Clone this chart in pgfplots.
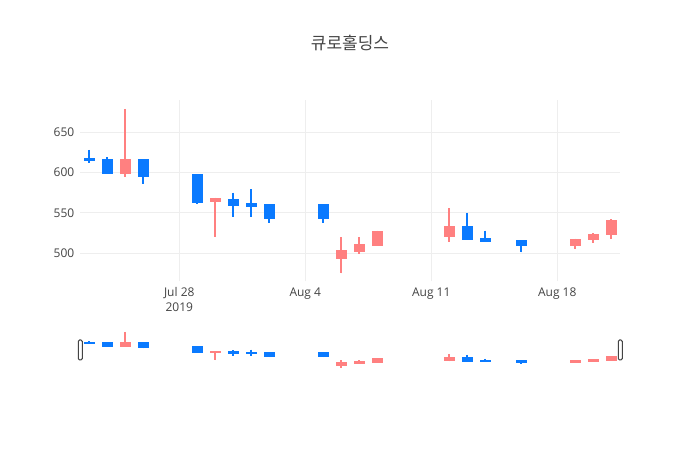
\documentclass[border=0pt]{standalone}
\usepackage{pgfplots}
\pgfplotsset{compat=1.18}
\usepgfplotslibrary{statistics}
\usepackage{fontspec}
\setmainfont{Open Sans}
\newfontfamily\krfont{Noto Sans CJK KR}
\definecolor{upred}{HTML}{FF8080}
\definecolor{downblue}{HTML}{0A7AFF}
\definecolor{txt}{HTML}{444444}
\definecolor{gridc}{HTML}{EEEEEE}

% candle: day, open, high, low, close
\newcommand{\up}[5]{\addplot[upred, fill=upred, line width=1.5pt,
  boxplot prepared={draw direction=y, draw position=#1, lower whisker=#4, lower quartile=#2,
  median=#2, upper quartile=#5, upper whisker=#3, box extend=0.48, whisker extend=0}]
  coordinates {};}
\newcommand{\down}[5]{\addplot[downblue, fill=downblue, line width=1.5pt,
  boxplot prepared={draw direction=y, draw position=#1, lower whisker=#4, lower quartile=#5,
  median=#5, upper quartile=#2, upper whisker=#3, box extend=0.48, whisker extend=0}]
  coordinates {};}

% day 0 = Jul 28 2019
\newcommand{\allcandles}{%
  \down{-5}{617}{628}{612}{615}
  \down{-4}{615}{619}{600}{600}
  \up{-3}{600}{679}{595}{616}
  \down{-2}{616}{616}{586}{596}
  \down{1}{597}{597}{561}{564}
  \up{2}{565}{569}{520}{567}
  \down{3}{566}{575}{545}{560}
  \down{4}{561}{579}{545}{559}
  \down{5}{560}{560}{538}{544}
  \down{8}{560}{560}{538}{544}
  \up{9}{494}{520}{475}{503}
  \up{10}{503}{520}{499}{510}
  \up{11}{510}{528}{510}{526}
  \up{15}{521}{556}{514}{532}
  \down{16}{532}{550}{517}{517}
  \down{17}{517}{528}{514}{515}
  \down{19}{515}{515}{501}{510}
  \up{22}{510}{518}{505}{516}
  \up{23}{517}{525}{513}{523}
  \up{24}{524}{542}{518}{540}
}

\begin{document}
\begin{tikzpicture}
\path[fill=white] (0,0) rectangle (525pt,337.5pt);
\node[font=\krfont\fontsize{12.75}{15}\selectfont, text=txt] at (262.5pt,305.25pt) {큐로홀딩스};

\begin{axis}[
    at={(60.2pt,126.45pt)}, anchor=south west,
    width=405pt, height=136.05pt, scale only axis,
    xmin=-5.5, xmax=24.5,
    ymin=465, ymax=690,
    xtick={0,7,14,21},
    xticklabels={{Jul 28\\2019},{Aug 4},{Aug 11},{Aug 18}},
    ytick={500,550,600,650},
    axis line style={draw=none},
    major tick length=0pt,
    xmajorgrids=true, ymajorgrids=true,
    major grid style={gridc, line width=0.75pt},
    tick label style={font=\fontsize{9}{11}\selectfont, text=txt},
    xticklabel style={align=center, yshift=-1pt},
    yticklabel style={xshift=-1pt},
    /pgf/number format/assume math mode=true,
]
\allcandles
\end{axis}

\begin{axis}[
    at={(60.2pt,60pt)}, anchor=south west,
    width=405pt, height=30pt, scale only axis,
    xmin=-5.5, xmax=24.5,
    ymin=465, ymax=690,
    axis lines=none, ticks=none, clip=false,
]
\allcandles
\node[draw=txt, fill=white, line width=0.75pt, rounded corners=1pt,
  minimum width=3pt, minimum height=15pt, inner sep=0pt] at (axis description cs:0,0.5) {};
\node[draw=txt, fill=white, line width=0.75pt, rounded corners=1pt,
  minimum width=3pt, minimum height=15pt, inner sep=0pt] at (axis description cs:1,0.5) {};
\end{axis}
\end{tikzpicture}
\end{document}
